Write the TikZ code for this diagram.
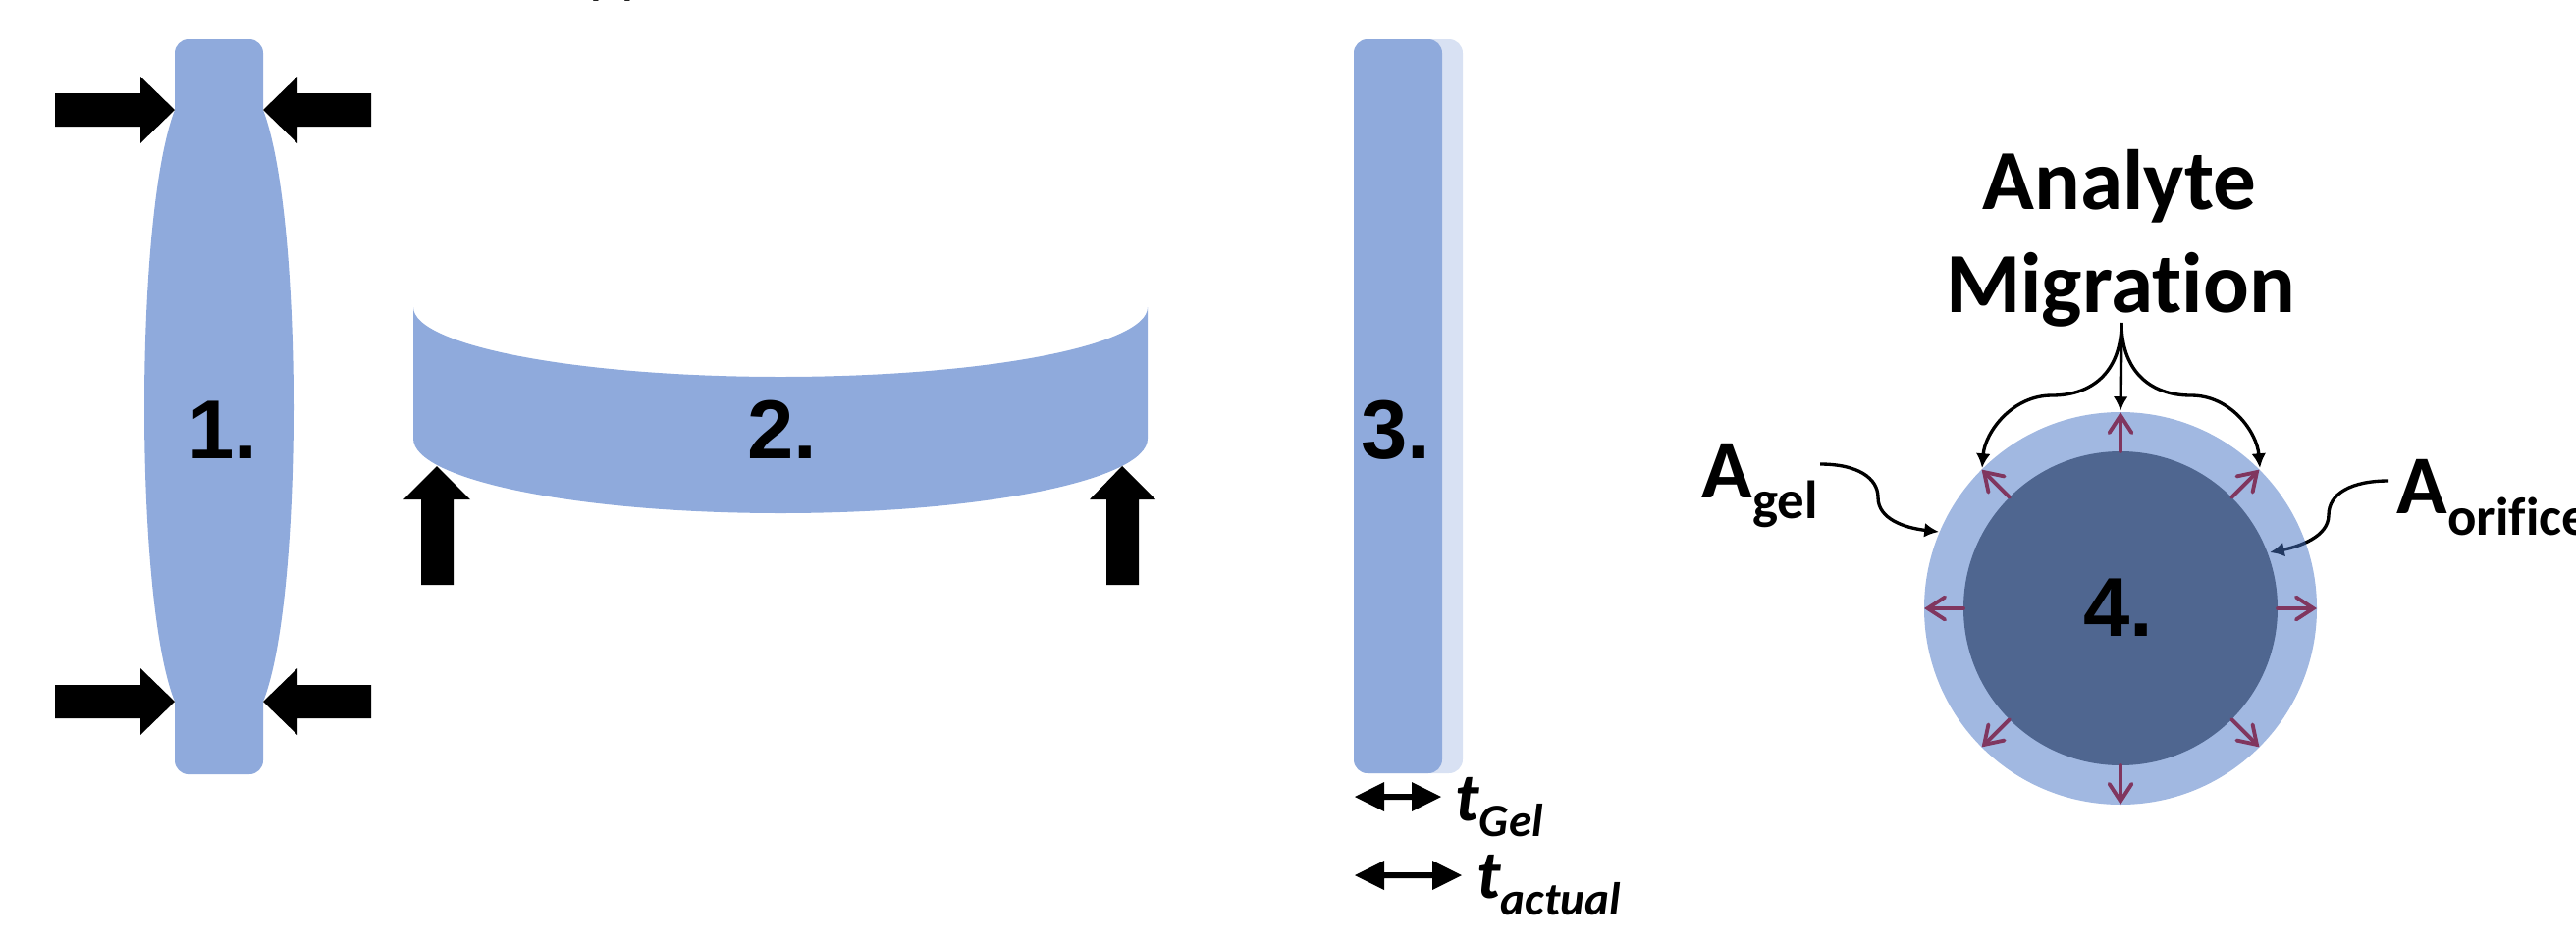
\documentclass[tikz,border=0pt]{standalone}
\usepackage{fontspec}
\usetikzlibrary{arrows.meta}
\newfontfamily\arialfam{Liberation Sans}
\newfontfamily\calfam{Carlito}[Ligatures=NoCommon]
\definecolor{gelblue}{HTML}{8FAADC}
\definecolor{ringblue}{HTML}{4472C4}
\definecolor{coreblue}{HTML}{4F6690}
\definecolor{migpurple}{HTML}{80365F}
\tikzset{
  gel/.style={fill=gelblue, draw=none},
  blockarrow/.style={fill=black, draw=none},
  numlabel/.style={font=\arialfam\bfseries\fontsize{24.2pt}{29pt}\selectfont, inner sep=0pt, anchor=base},
  biglabel/.style={font=\calfam\bfseries\fontsize{24.2pt}{29pt}\selectfont, inner sep=0pt},
  headline/.style={font=\calfam\bfseries\fontsize{24.8pt}{30pt}\selectfont, inner sep=0pt, anchor=base},
  thick label/.style={font=\calfam\bfseries\itshape, inner sep=0pt, anchor=base west},
  pointer/.style={draw=black, line width=0.95pt, -{Latex[length=4.2pt,width=4.2pt]}},
  radial/.style={draw=migpurple, line width=1.1pt, line cap=round,
    -{Straight Barb[length=5pt,width=6.5pt,line cap=round]}},
}
\begin{document}
\begin{tikzpicture}[x=0.01cm,y=-0.01cm]
\useasboundingbox (0,0) rectangle (2624,957);
\clip (0,0) rectangle (2624,957);

% caption line above, only its descenders reach into the frame
\node[font=\calfam\fontsize{17.4pt}{20pt}\selectfont, inner sep=0pt, anchor=base west] (caption) at (600,-8.6) {pp};

% ---------- 1. gel squeezed from the sides ----------
\path[gel] (178,112) -- (178,54) .. controls (178,46.3) and (184.3,40) .. (192,40)
  -- (254,40) .. controls (261.7,40) and (268,46.3) .. (268,54) -- (268,112)
  .. controls (290,170) and (299,300) .. (299,415)
  .. controls (299,530) and (290,660) .. (268,715)
  -- (268,775) .. controls (268,782.7) and (261.7,789) .. (254,789)
  -- (192,789) .. controls (184.3,789) and (178,782.7) .. (178,775) -- (178,715)
  .. controls (156,660) and (147,530) .. (147,415)
  .. controls (147,300) and (156,170) .. (178,112) -- cycle;
\node[numlabel] (one) at (227,467) {1.};
% pressing arrows
\path[blockarrow] (56,95) -- (143,95) -- (143,78) -- (178,112) -- (143,146) -- (143,129) -- (56,129) -- cycle;
\path[blockarrow] (378,95) -- (303,95) -- (303,78) -- (268,112) -- (303,146) -- (303,129) -- (378,129) -- cycle;
\path[blockarrow] (56,698) -- (143,698) -- (143,681) -- (178,715) -- (143,749) -- (143,732) -- (56,732) -- cycle;
\path[blockarrow] (378,698) -- (303,698) -- (303,681) -- (268,715) -- (303,749) -- (303,732) -- (378,732) -- cycle;

% ---------- 2. gel bent upwards ----------
\path[gel] (421,313) .. controls (421,352.2) and (588.4,384) .. (795,384)
  .. controls (1001.6,384) and (1169,352.2) .. (1169,313)
  -- (1169,447) .. controls (1169,489) and (1001.6,523) .. (795,523)
  .. controls (588.4,523) and (421,489) .. (421,447) -- cycle;
\node[numlabel] (two) at (797,467) {2.};
\path[blockarrow] (445,475) -- (479,509) -- (462,509) -- (462,596) -- (429,596) -- (429,509) -- (411,509) -- cycle;
\path[blockarrow] (1143,475) -- (1177,509) -- (1160,509) -- (1160,596) -- (1127,596) -- (1127,509) -- (1110,509) -- cycle;

% ---------- 3. gel swelling ----------
\fill[gelblue, opacity=0.35, rounded corners=0.14cm] (1379,40) rectangle (1490,788);
\fill[gelblue, rounded corners=0.14cm] (1379,40) rectangle (1469,788);
\node[numlabel] (three) at (1422,467) {3.};
% thickness markers
\path[blockarrow] (1380,812) -- (1410,797) -- (1410,809) -- (1438,809) -- (1438,797) -- (1468,812)
  -- (1438,827) -- (1438,815) -- (1410,815) -- (1410,827) -- cycle;
\path[blockarrow] (1380,892) -- (1410,877) -- (1410,889) -- (1459,889) -- (1459,877) -- (1489,892)
  -- (1459,907) -- (1459,895) -- (1410,895) -- (1410,907) -- cycle;
\node[thick label] (tgel) at (1482,836)
  {\fontsize{19.9pt}{24pt}\selectfont t\raisebox{-0.16cm}{\fontsize{13.4pt}{16pt}\selectfont Gel}};
\node[thick label] (tact) at (1504,915)
  {\fontsize{19.9pt}{24pt}\selectfont t\raisebox{-0.17cm}{\fontsize{13.4pt}{16pt}\selectfont actual}};

% ---------- 4. orifice with gel ring ----------
\coordinate (core) at (2160,620);
\coordinate (orifstart) at (2433,490);
\coordinate (orifmid) at (2372,525);
\coordinate (oriftip) at (2312,563);
% this pointer runs beneath the translucent ring
\draw[pointer] (orifstart) .. controls +(-38,0) and +(0,-22) .. (orifmid)
  .. controls +(0,22) and +(30,-6) .. (oriftip);
\fill[ringblue, opacity=0.5] (core) circle[radius=200];
\fill[coreblue] (core) circle[radius=160];
\node[numlabel] (four) at (2158,648) {4.};
\begin{scope}[shift={(core)}]
  \foreach \a in {0,45,...,315}
    \draw[radial] (\a:160) -- (\a:200);
\end{scope}

\node[headline] (analyte) at (2159,213) {Analyte};
\node[headline] (migration) at (2160,318) {Migration};
\node[biglabel, anchor=base west] (agel) at (1733,507)
  {A\raisebox{-0.21cm}{\fontsize{15.6pt}{18pt}\selectfont gel}};
\node[biglabel, anchor=base west] (aorif) at (2441,523)
  {A\raisebox{-0.22cm}{\fontsize{15.6pt}{18pt}\selectfont orifice}};

\coordinate (migsrc) at (2161,329);
\coordinate (ringtop) at (2160,419);
\coordinate (bracel) at (2090,403);
\coordinate (bracer) at (2232,403);
\coordinate (ringnw) at (2019,477);
\coordinate (ringne) at (2302,477);
\draw[pointer] (migsrc) -- (ringtop);
\draw[pointer] (migsrc) .. controls +(0,46) and +(45,0) .. (bracel)
  .. controls +(-40,0) and +(3,-37) .. (ringnw);
\draw[pointer] (migsrc) .. controls +(0,46) and +(-45,0) .. (bracer)
  .. controls +(40,0) and +(-3,-37) .. (ringne);

\coordinate (gelstart) at (1854,473);
\coordinate (gelmid) at (1913,507);
\coordinate (geltip) at (1975,542);
\draw[pointer] (gelstart) .. controls +(38,0) and +(0,-20) .. (gelmid)
  .. controls +(0,22) and +(-35,-4) .. (geltip);
\end{tikzpicture}
\end{document}
